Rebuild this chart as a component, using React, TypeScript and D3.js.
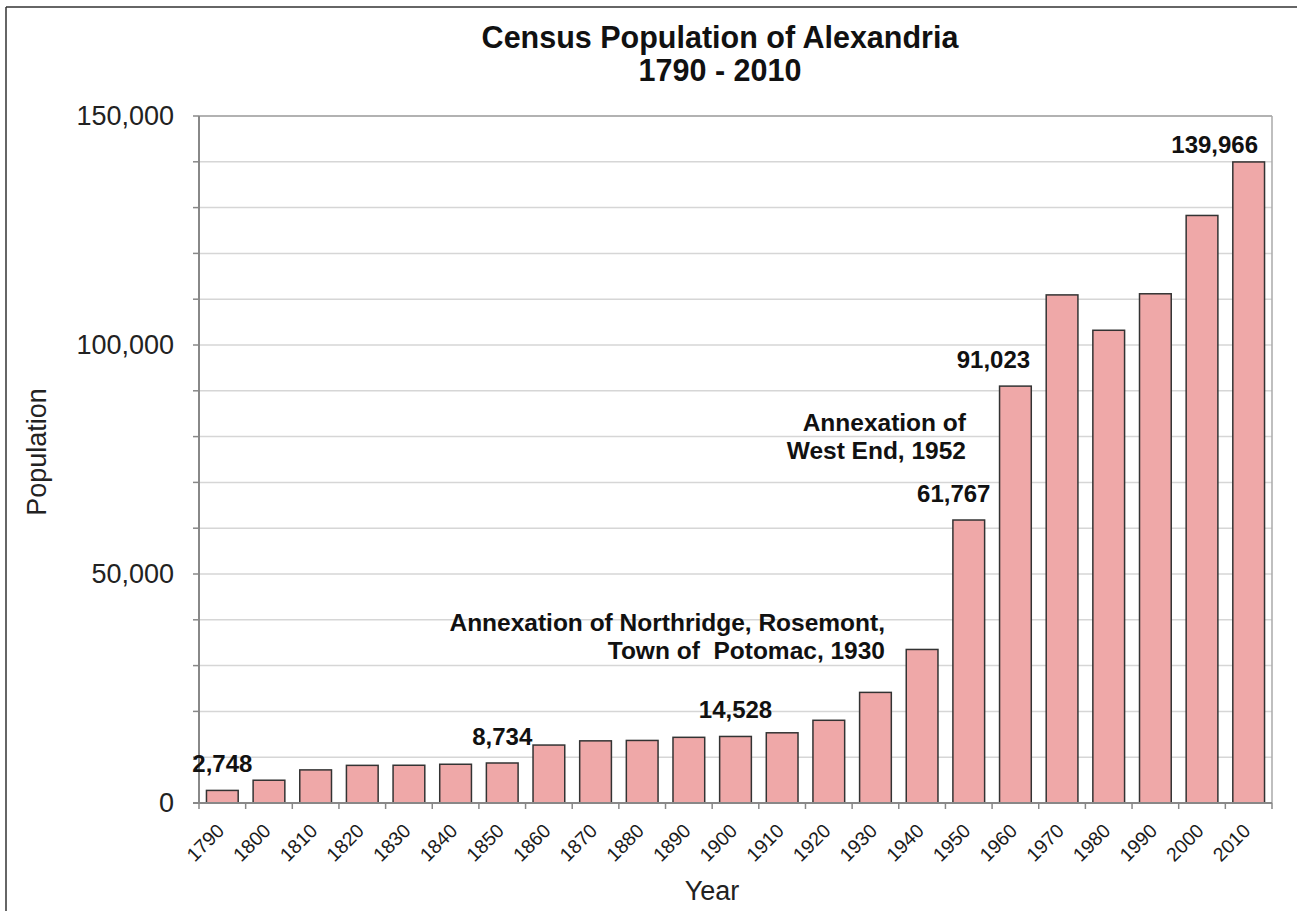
import React from "react";
import * as d3 from "d3";

const years = ["1790","1800","1810","1820","1830","1840","1850","1860","1870","1880","1890","1900","1910","1920","1930","1940","1950","1960","1970","1980","1990","2000","2010"];
const population = [2748,4971,7227,8218,8241,8459,8734,12652,13570,13659,14339,14528,15329,18060,24149,33523,61787,91023,110938,103217,111183,128283,139966];
const labeledYears = ["1790","1850","1900","1950","1960","2010"];
const labelTexts = ["2,748","8,734","14,528","61,767","91,023","139,966"];
const labelShift = [0,0,0,-15,-22,-34];
const labelGap = [18,18,18,18,18,9];
const yTickLabels = [0,50000,100000,150000];
const minorTicks = d3.range(0,150001,10000);

const W = 1297, H = 911;
const left = 199, right = 1272, top = 116, bottom = 803;

export default function App() {
  const x = d3.scaleBand<string>().domain(years).range([left,right]).paddingInner(0.32).paddingOuter(0.16);
  const y = d3.scaleLinear().domain([0,150000]).range([bottom,top]);
  const step = x.step();
  const fmt = d3.format(",");
  const font = "'Liberation Sans', Arial, sans-serif";
  const bandStarts = d3.range(0, years.length + 1).map(i => left + i*step);
  return (
    <svg width={W} height={H} style={{position:"absolute",left:0,top:0,background:"#fff"}} fontFamily={font}>
      <rect x={0} y={0} width={W} height={H} fill="#fff" />
      {/* outer frame */}
      <line x1={6} y1={7} x2={W} y2={7} stroke="#333" strokeWidth={1.5} />
      <line x1={6} y1={7} x2={6} y2={H} stroke="#333" strokeWidth={1.5} />
      {/* gridlines */}
      {minorTicks.filter(v => v>0 && v<150000).map(v => (
        <line key={"g"+v} x1={left} x2={right} y1={y(v)} y2={y(v)} stroke="#d6d6d6" strokeWidth={1.5} />
      ))}
      {/* plot border top/right */}
      <line x1={left} x2={right} y1={y(150000)} y2={y(150000)} stroke="#999" strokeWidth={1.5} />
      <line x1={right} x2={right} y1={top} y2={bottom} stroke="#aaa" strokeWidth={1.5} />
      {/* bars */}
      {years.map((yr,i) => (
        <rect key={yr} x={x(yr)} y={y(population[i])} width={x.bandwidth()} height={bottom - y(population[i])}
          fill="#efa8a8" stroke="#333" strokeWidth={1.5} />
      ))}
      {/* y axis */}
      <line x1={left} x2={left} y1={top} y2={bottom} stroke="#888" strokeWidth={2} />
      {minorTicks.map(v => (
        <line key={"t"+v} x1={left-6} x2={left} y1={y(v)} y2={y(v)} stroke="#888" strokeWidth={1.5} />
      ))}
      {yTickLabels.map(v => (
        <text key={"l"+v} x={174} y={y(v)} dy="0.35em" textAnchor="end" fontSize={27} fill="#222">{fmt(v)}</text>
      ))}
      {/* x axis */}
      <line x1={left-6} x2={right} y1={bottom} y2={bottom} stroke="#888" strokeWidth={2} />
      {bandStarts.map((bx,i) => (
        <line key={"xt"+i} x1={bx} x2={bx} y1={bottom} y2={bottom+6} stroke="#888" strokeWidth={1.5} />
      ))}
      {years.map(yr => {
        const cx = (x(yr) as number) + x.bandwidth()/2;
        return (
          <text key={"xl"+yr} transform={`translate(${cx+3},${bottom+29}) rotate(-45)`} textAnchor="end" fontSize={19.5} fill="#1a1a1a">{yr}</text>
        );
      })}
      {/* value labels */}
      {labeledYears.map((yr,i) => {
        const idx = years.indexOf(yr);
        const cx = (x(yr) as number) + x.bandwidth()/2 + labelShift[i];
        return (
          <text key={"vl"+yr} x={cx} y={y(population[idx]) - labelGap[i]} textAnchor="middle" fontSize={24} fontWeight="bold" fill="#111">{labelTexts[i]}</text>
        );
      })}
      {/* annotations */}
      <text x={885} y={631} textAnchor="end" fontSize={24.5} fontWeight="bold" fill="#111">Annexation of Northridge, Rosemont,</text>
      <text x={885} y={659} textAnchor="end" fontSize={24.5} fontWeight="bold" fill="#111" style={{whiteSpace:"pre"}}>{"Town of  Potomac, 1930"}</text>
      <text x={966} y={431} textAnchor="end" fontSize={24.5} fontWeight="bold" fill="#111">Annexation of</text>
      <text x={966} y={459} textAnchor="end" fontSize={24.5} fontWeight="bold" fill="#111">West End, 1952</text>
      {/* titles */}
      <text x={720} y={48} textAnchor="middle" fontSize={30.5} fontWeight="bold" fill="#111">Census Population of Alexandria</text>
      <text x={720} y={81} textAnchor="middle" fontSize={30.5} fontWeight="bold" fill="#111">1790 - 2010</text>
      <text x={712} y={900} textAnchor="middle" fontSize={27} fill="#222">Year</text>
      <text transform={`translate(46,452) rotate(-90)`} textAnchor="middle" fontSize={27} fill="#222">Population</text>
    </svg>
  );
}
